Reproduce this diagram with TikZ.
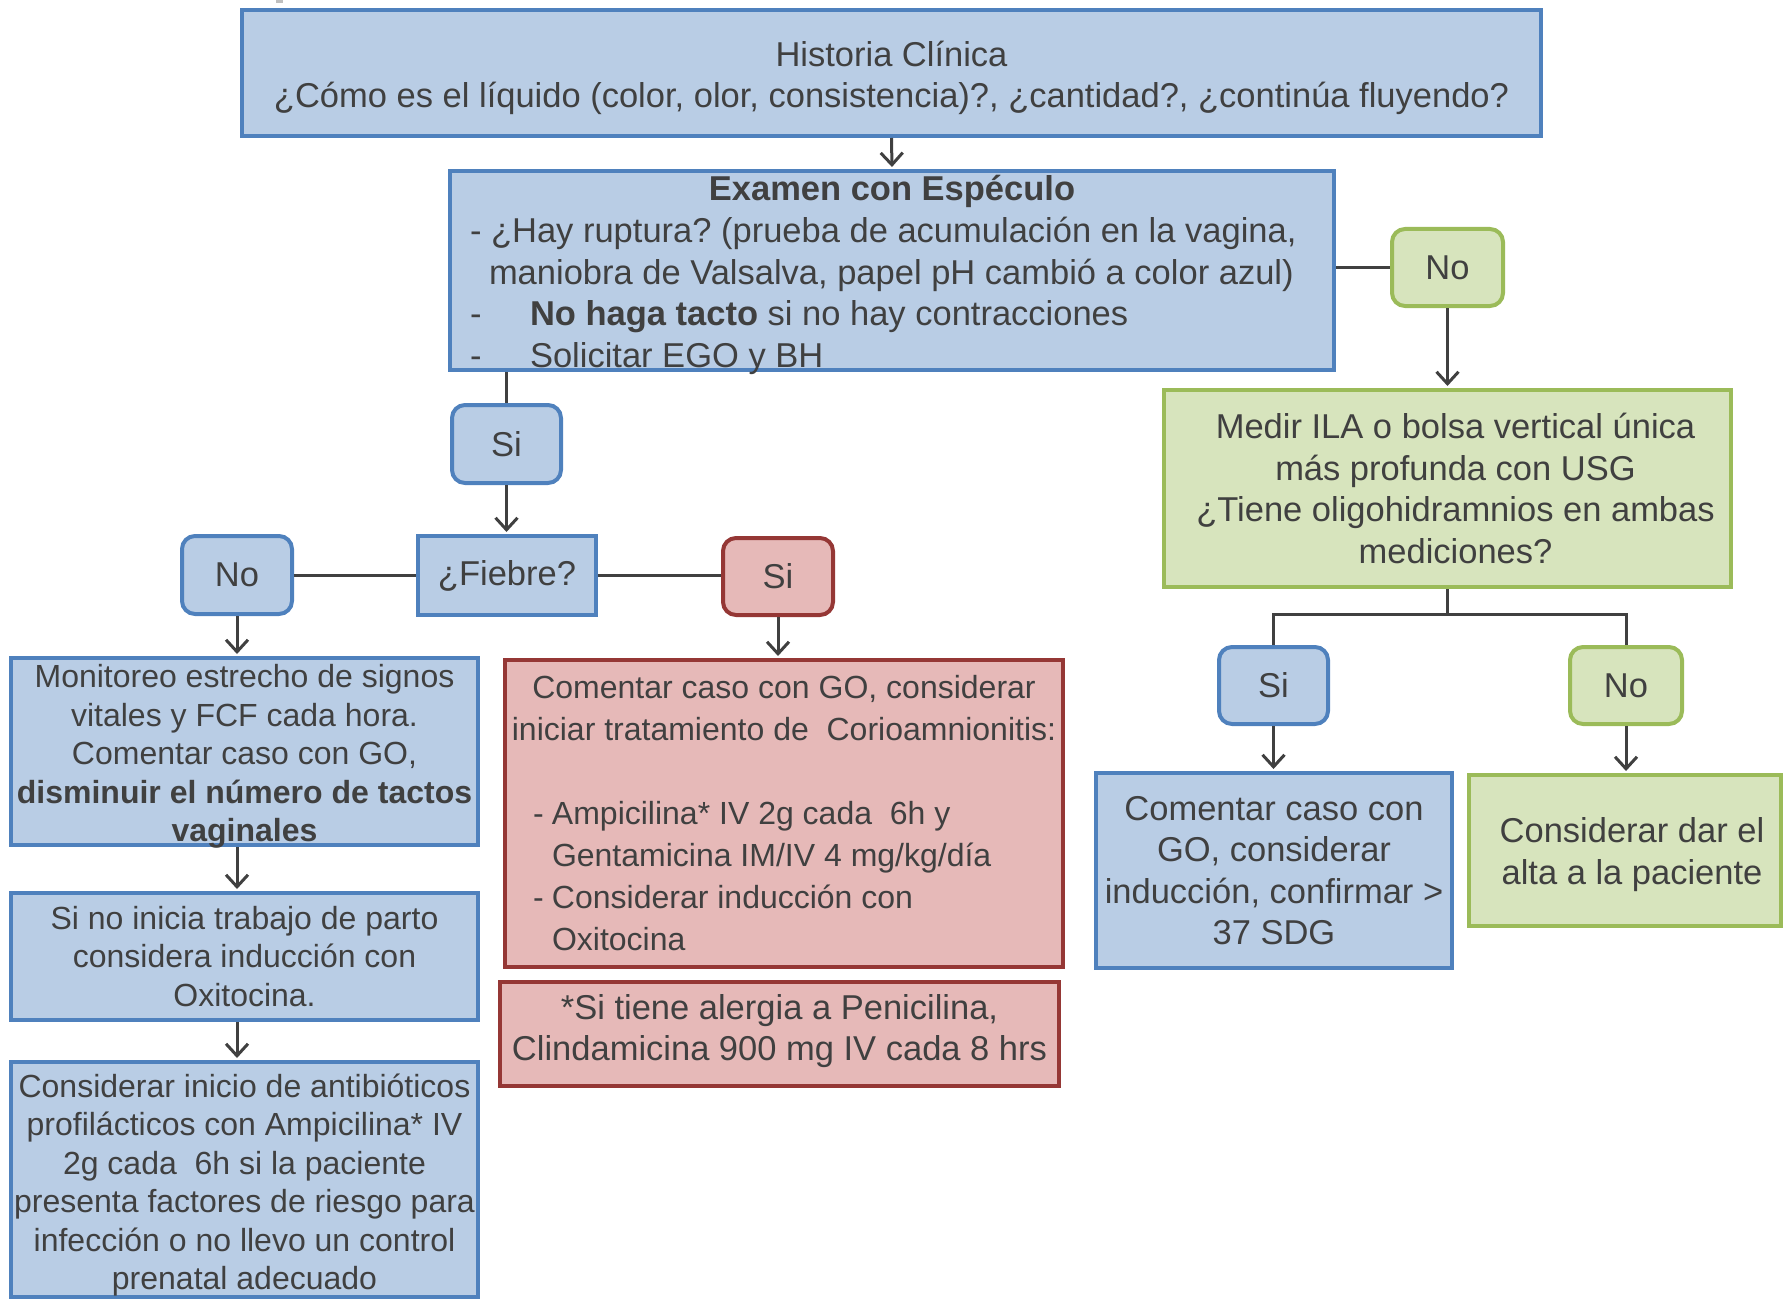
\documentclass[tikz,border=0pt]{standalone}
\usepackage{fontspec}
\setmainfont{Liberation Sans}
\usetikzlibrary{arrows.meta}

\definecolor{blueF}{HTML}{B9CDE5}
\definecolor{blueD}{HTML}{4F81BD}
\definecolor{greenF}{HTML}{D7E4BD}
\definecolor{greenD}{HTML}{9BBB59}
\definecolor{redF}{HTML}{E6B9B8}
\definecolor{redD}{HTML}{953735}
\definecolor{ink}{HTML}{404040}

\tikzset{
  txt/.style={text=ink, inner sep=0pt, align=center,
    font=\fontsize{34.5}{41.4}\selectfont},
  smalltxt/.style={txt, font=\fontsize{32}{38.4}\selectfont},
  base/.style={txt, draw, line width=4pt, inner sep=0pt},
  bluebox/.style={base, draw=blueD, fill=blueF},
  greenbox/.style={base, draw=greenD, fill=greenF},
  redbox/.style={base, draw=redD, fill=redF},
  roundbox/.style={rounded corners=13pt},
  link/.style={draw=ink, line width=3pt},
  arrow/.style={link, shorten >=2pt, -{Straight Barb[length=12pt,width=22pt]}},
}

% box given by its corners (x1,y1) and (x2,y2), y measured downwards
\newcommand{\boxnode}[7]{%
  \node[#1, minimum width={#5-#3}, minimum height={#6-#4}]
    (#2) at ({(#3+#5)/2},{(#4+#6)/2}) {#7};}

\begin{document}
\frenchspacing
\begin{tikzpicture}[x=1pt, y=-1pt]
\useasboundingbox (0,0) rectangle (1783,1300);

% small mark above the top box
\fill[black!25] (276,0) rectangle (283,3);

% ---- top ----
\boxnode{bluebox}{hist}{242}{10}{1541}{136}{}
\node[txt, yshift=-5pt] (hist-t) at (hist) {Historia Clínica\\¿Cómo es el líquido (color, olor, consistencia)?, ¿cantidad?, ¿continúa fluyendo?};

\boxnode{bluebox}{exa}{450}{171}{1334}{370}{}
\node[txt, align=left, yshift=-4.5pt, font=\fontsize{34.5}{41.8}\selectfont] (exa-t) at (exa) {%
  \makebox[844pt][c]{\bfseries Examen con Espéculo}\\
  - ¿Hay ruptura? (prueba de acumulación en la vagina,\\
  \hspace*{19pt}maniobra de Valsalva, papel pH cambió a color azul)\\
  \makebox[60pt][l]{-}\textbf{No haga tacto} si no hay contracciones\\
  \makebox[60pt][l]{-}Solicitar EGO y BH};

% ---- right branch ----
\boxnode{greenbox,roundbox}{no1}{1392}{229}{1503}{306}{No}
\boxnode{greenbox}{medir}{1164}{390}{1731}{587}{}
\node[txt, xshift=8pt] (medir-t) at (medir) {Medir ILA o bolsa vertical única\\más profunda con USG\\¿Tiene oligohidramnios en ambas\\mediciones?};

\boxnode{bluebox,roundbox}{si2}{1219}{647}{1328}{724}{Si}
\boxnode{greenbox,roundbox}{no2}{1570}{647}{1682}{724}{No}

\boxnode{bluebox}{comR}{1096}{773}{1452}{968}{}
\node[txt] (comR-t) at (comR) {Comentar caso con\\GO, considerar\\inducción, confirmar >\\37 SDG};

\boxnode{greenbox}{conD}{1469}{775}{1781}{926}{}
\node[txt, xshift=7pt, yshift=-4pt] (conD-t) at (conD) {Considerar dar el\\alta a la paciente};

% ---- fever decision ----
\boxnode{bluebox,roundbox}{si1}{452}{405}{561}{483}{Si}
\boxnode{bluebox}{fie}{418}{536}{596}{615}{¿Fiebre?}
\boxnode{bluebox,roundbox}{noL}{182}{536}{292}{614}{No}
\boxnode{redbox,roundbox}{siR}{723}{538}{833}{615}{Si}

% ---- left column ----
\boxnode{bluebox}{mon}{11}{658}{478}{845}{}
\node[smalltxt, yshift=-5pt] (mon-t) at (mon) {Monitoreo estrecho de signos\\vitales y FCF cada hora.\\Comentar caso con GO,\\\textbf{disminuir el número de tactos}\\\textbf{vaginales}};

\boxnode{bluebox}{sini}{11}{893}{478}{1020}{}
\node[smalltxt] (sini-t) at (sini) {Si no inicia trabajo de parto\\considera inducción con\\Oxitocina.};

\boxnode{bluebox}{cons}{11}{1062}{478}{1297}{}
\node[smalltxt, yshift=-5.5pt] (cons-t) at (cons) {Considerar inicio de antibióticos\\profilácticos con Ampicilina* IV\\2g cada~\ 6h si la paciente\\presenta factores de riesgo para\\infección o no llevo un control\\prenatal adecuado};

% ---- chorioamnionitis ----
\boxnode{redbox}{red1}{505}{660}{1063}{967}{}
\node[txt, align=left, font=\fontsize{32}{42}\selectfont] (red1-t) at (red1) {%
  \makebox[502pt][c]{Comentar caso con GO, considerar}\\
  \makebox[502pt][c]{iniciar tratamiento de~\ Corioamnionitis:}\\[42pt]
  \makebox[19pt][l]{-}Ampicilina* IV 2g cada~\ 6h y\\
  \hspace*{19pt}Gentamicina IM/IV 4 mg/kg/día\\
  \makebox[19pt][l]{-}Considerar inducción con\\
  \hspace*{19pt}Oxitocina};

\boxnode{redbox}{red2}{500}{982}{1059}{1086}{}
\node[txt, yshift=3pt] (red2-t) at (red2) {*Si tiene alergia a Penicilina,\\Clindamicina 900 mg IV cada 8 hrs};

% ---- connectors ----
\draw[arrow] (hist.south) -- (exa.north);
\draw[link] (exa.east |- no1.west) -- (no1.west);
\draw[arrow] (no1.south) -- (no1.south |- medir.north);
\draw[link] (medir.south) -- ++(0,25) coordinate (split);
\draw[link] (si2.north) |- (split) -| (no2.north);
\draw[arrow] (si2.south) -- (si2.south |- comR.north);
\draw[arrow] (no2.south) -- (no2.south |- conD.north);

\draw[link] (exa.south -| si1.north) -- (si1.north);
\draw[arrow] (si1.south) -- (si1.south |- fie.north);
\draw[link] (fie.west) -- (noL.east |- fie.west);
\draw[link] (fie.east) -- (siR.west |- fie.east);
\draw[arrow] (noL.south) -- (noL.south |- mon.north);
\draw[arrow] (mon.south -| noL.south) -- (sini.north -| noL.south);
\draw[arrow] (sini.south -| noL.south) -- (cons.north -| noL.south);
\draw[arrow] (siR.south) -- (siR.south |- red1.north);
\end{tikzpicture}
\end{document}
